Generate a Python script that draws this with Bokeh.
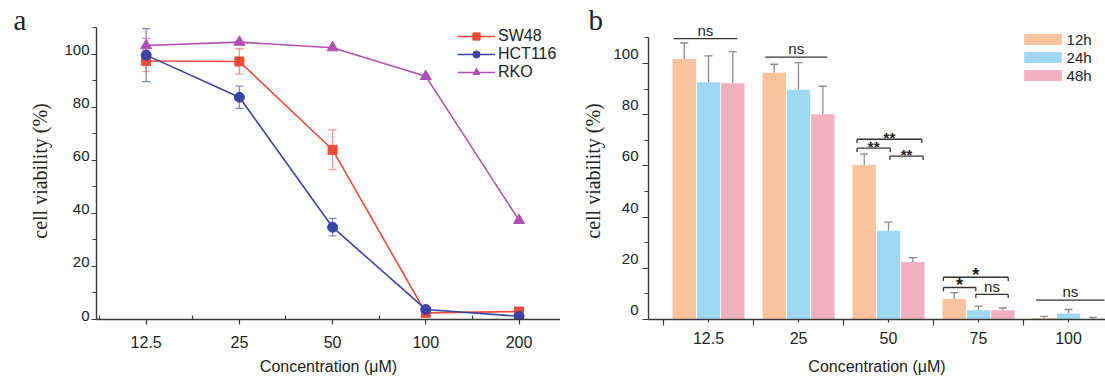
import numpy as np
from bokeh.plotting import figure
from bokeh.models import (FixedTicker, Label, Legend, LegendItem, Whisker, TeeHead,
                          ColumnDataSource, Range1d, CustomJSTickFormatter, LinearAxis)
from bokeh.layouts import row
from bokeh.embed import file_html
from bokeh.resources import INLINE
from bokeh.core.properties import value

# ---------------- data: panel a ----------------
conc_a = ["12.5", "25", "50", "100", "200"]
sw48 = [97.5, 97.3, 64.0, 2.5, 3.0]
sw48_err = [4.0, 4.8, 7.5, 0.0, 0.0]
hct116 = [99.7, 83.8, 34.8, 3.8, 1.2]
hct116_err = [10.0, 4.2, 3.3, 0.0, 0.0]
rko = [103.3, 104.6, 102.5, 91.7, 37.4]
rko_err = [2.7, 0.0, 0.0, 0.0, 0.0]

# ---------------- data: panel b ----------------
conc_b = ["12.5", "25", "50", "75", "100"]
times = ["12h", "24h", "48h"]
v12 = [101.7, 96.4, 60.3, 8.0, 0.6]
e12 = [6.3, 3.3, 4.3, 2.5, 0.6]
v24 = [92.7, 89.7, 34.7, 3.6, 2.3]
e24 = [10.3, 10.6, 3.3, 1.6, 1.6]
v48 = [92.3, 80.2, 22.5, 3.6, 0.3]
e48 = [12.3, 10.9, 1.7, 0.9, 0.5]

# significance annotations: group, x0 offset, x1 offset, level, label, bracket ends
sig_group = [0, 1, 2, 2, 2, 3, 3, 3, 4]
sig_x0 = [-0.39, -0.37, -0.35, -0.35, 0.015, -0.39, -0.39, -0.03, -0.36]
sig_x1 = [0.32, 0.32, 0.37, 0.02, 0.385, 0.33, -0.03, 0.33, 0.40]
sig_y = [109.7, 102.5, 70.4, 66.9, 63.8, 16.5, 12.5, 9.85, 7.6]
sig_label = ["ns", "ns", "**", "**", "**", "*", "*", "ns", "ns"]
sig_bracket = [False, False, True, True, True, True, True, True, False]

y_major = [0, 20, 40, 60, 80, 100]
y_minor = [10, 30, 50, 70, 90, 110]

SANS = "Liberation Sans"
SERIF = "Liberation Serif"
AX = "#3a3a3a"
TXT = "#222222"

c_sw, c_hct, c_rko = "#EE4B3A", "#3B45A8", "#B24FB5"
ce_sw, ce_hct, ce_rko = "#F59A8E", "#8287C9", "#CC92CF"
c_bars = ["#F9C3A0", "#9ED8F2", "#F2B1BF"]


def style_axes(p, ytick_out, yminor_out):
    p.outline_line_color = None
    p.grid.visible = False
    for ax in (p.xaxis[0], p.yaxis[0]):
        ax.axis_line_color = AX
        ax.axis_line_width = 1.4
        ax.major_tick_line_color = AX
        ax.minor_tick_line_color = AX
        ax.major_tick_line_width = 1.2
        ax.minor_tick_line_width = 1.2
        ax.major_label_text_font = SANS
        ax.major_label_text_color = TXT
    ya = p.yaxis[0]
    ya.ticker = FixedTicker(ticks=y_major, minor_ticks=y_minor)
    ya.bounds = (0, 110)
    ya.major_tick_in = 0
    ya.major_tick_out = ytick_out
    ya.minor_tick_in = 0
    ya.minor_tick_out = yminor_out
    ya.formatter = CustomJSTickFormatter(code="return ''")
    ya.major_label_standoff = 0


def label_axis(p, y0, y1, shift, standoff, title_standoff):
    # tick labels drawn slightly above their ticks, as in the reference
    p.extra_y_ranges = {"lab": Range1d(y0 - shift, y1 - shift)}
    ax = LinearAxis(y_range_name="lab", ticker=FixedTicker(ticks=y_major, minor_ticks=[]),
                    axis_line_color=None, major_tick_line_color=None, minor_tick_line_color=None,
                    major_tick_in=0, major_tick_out=0, minor_tick_in=0, minor_tick_out=0,
                    major_label_standoff=standoff, major_label_text_font=SANS,
                    major_label_text_font_size="15px", major_label_text_color=TXT,
                    axis_label="cell viability (%)", axis_label_text_font=SERIF,
                    axis_label_text_font_size="20px", axis_label_text_font_style="normal",
                    axis_label_text_color=TXT, axis_label_standoff=title_standoff)
    p.add_layout(ax, "left")


def x_axis(p, labels, tick_out, minor_in, minor_out, standoff, title_standoff):
    xa = p.xaxis[0]
    n = len(labels)
    xa.ticker = FixedTicker(ticks=list(range(n)), minor_ticks=[i - 0.5 for i in range(n + 1)])
    xa.major_label_overrides = {i: c for i, c in enumerate(labels)}
    xa.major_label_text_font_size = "16px"
    xa.major_tick_in = 0
    xa.major_tick_out = tick_out
    xa.minor_tick_in = minor_in
    xa.minor_tick_out = minor_out
    xa.major_label_standoff = standoff
    xa.axis_label = "Concentration (\u03bcM)"
    xa.axis_label_text_font = SANS
    xa.axis_label_text_font_size = "16px"
    xa.axis_label_text_font_style = "normal"
    xa.axis_label_text_color = TXT
    xa.axis_label_standoff = title_standoff


def panel_letter(p, letter, x, y):
    p.add_layout(Label(x=x, y=y, x_units="canvas", y_units="canvas", text=letter,
                       text_align="left", text_baseline="alphabetic",
                       text_font=SERIF, text_font_size="29px", text_color=TXT), "left")


# ======================= panel a =======================
ia = list(range(len(conc_a)))
xa0, xa1 = -0.533, 4.445
pa = figure(width=560, height=377, x_range=Range1d(xa0, xa1), y_range=Range1d(0, 112),
            output_backend="svg", toolbar_location=None, title=None,
            min_border_left=96, min_border_right=0, min_border_top=22, min_border_bottom=52)
style_axes(pa, 5, 4)
x_axis(pa, conc_a, 5, 4, 0, 11, 7)

leg_items = []
for name, vals, errs, col, ecol, mk, sz in [
        ("SW48", sw48, sw48_err, c_sw, ce_sw, "square", 9),
        ("HCT116", hct116, hct116_err, c_hct, ce_hct, "circle", 10),
        ("RKO", rko, rko_err, c_rko, ce_rko, "triangle", 11)]:
    sel = [i for i in ia if errs[i] > 0]
    src = ColumnDataSource(dict(base=[ia[i] for i in sel],
                                lower=[vals[i] - errs[i] for i in sel],
                                upper=[vals[i] + errs[i] for i in sel]))
    w = Whisker(base="base", lower="lower", upper="upper", source=src,
                line_color=ecol, line_width=1.3,
                upper_head=TeeHead(size=8, line_color=ecol, line_width=1.3),
                lower_head=TeeHead(size=8, line_color=ecol, line_width=1.3))
    pa.add_layout(w)
    lr = pa.line(ia, vals, line_color=col, line_width=1.6)
    sr = pa.scatter(ia, vals, marker=mk, size=sz, fill_color=col, line_color=col)
    leg_items.append(LegendItem(label=name, renderers=[lr, sr]))

leg_a = Legend(items=leg_items, location=(361, 238), orientation="vertical",
               glyph_width=38, glyph_height=18, label_height=18, label_standoff=3,
               spacing=0, padding=0, margin=0,
               label_text_font=SANS, label_text_font_size="16px", label_text_color=TXT,
               border_line_alpha=0, background_fill_alpha=0)
pa.add_layout(leg_a)
label_axis(pa, 0, 112, 1.5, 2, 10)
panel_letter(pa, "a", 13, 19)

# ======================= panel b =======================
ib = list(range(len(conc_b)))
xb0, xb1 = -0.667, 4.411
pb = figure(width=545, height=377, x_range=Range1d(xb0, xb1), y_range=Range1d(0, 116),
            output_backend="svg", toolbar_location=None, title=None,
            min_border_left=88, min_border_right=0, min_border_top=10, min_border_bottom=53)
style_axes(pb, 6, 4)
x_axis(pb, conc_b, 3, 0, 6, 6, 11)

offsets = [-0.27, 0.0, 0.27]
bar_items = []
for k, (vals, errs) in enumerate([(v12, e12), (v24, e24), (v48, e48)]):
    xs = [i + offsets[k] for i in ib]
    r = pb.vbar(x=xs, top=vals, width=0.26, fill_color=c_bars[k], line_color=None)
    bar_items.append(LegendItem(label=times[k], renderers=[r]))
    src = ColumnDataSource(dict(base=xs, lower=vals, upper=[v + e for v, e in zip(vals, errs)]))
    pb.add_layout(Whisker(base="base", lower="lower", upper="upper", source=src,
                          line_color="#8a8a8a", line_width=1.3, lower_head=None,
                          upper_head=TeeHead(size=8, line_color="#8a8a8a", line_width=1.3)))

# significance lines / brackets
drop = 1.5
hx0 = [g + a for g, a in zip(sig_group, sig_x0)]
hx1 = [g + b for g, b in zip(sig_group, sig_x1)]
pb.segment(x0=hx0, y0=sig_y, x1=hx1, y1=sig_y, line_color="#333333", line_width=1.3)
bx, by0, by1 = [], [], []
for a, b, y, br in zip(hx0, hx1, sig_y, sig_bracket):
    if br:
        bx += [a, b]
        by0 += [y, y]
        by1 += [y - drop, y - drop]
pb.segment(x0=bx, y0=by0, x1=bx, y1=by1, line_color="#333333", line_width=1.3)

ns_x, ns_y, st_x, st_y, s1_x, s1_y = [], [], [], [], [], []
for a, b, y, lab in zip(hx0, hx1, sig_y, sig_label):
    cx = (a + b) / 2
    if lab == "ns":
        ns_x.append(cx); ns_y.append(y + 3.2)
    elif lab == "**":
        st_x.append(cx); st_y.append(y + 0.6)
    else:
        s1_x.append(cx); s1_y.append(y + 0.9)
pb.text(x=ns_x, y=ns_y, text=["ns"] * len(ns_x), text_font=value(SANS), text_font_size="15px",
        text_align="center", text_baseline="middle", text_color=TXT)
pb.text(x=st_x, y=st_y, text=["**"] * len(st_x), text_font=value(SANS), text_font_size="15px",
        text_font_style="bold", text_align="center", text_baseline="middle", text_color=TXT)
pb.text(x=s1_x, y=s1_y, text=["*"] * len(s1_x), text_font=value(SANS), text_font_size="18px",
        text_font_style="bold", text_align="center", text_baseline="middle", text_color=TXT)

leg_b = Legend(items=bar_items, location=(370.6, 235), orientation="vertical",
               glyph_width=47, glyph_height=14, label_height=18, label_standoff=1,
               spacing=0, padding=0, margin=0,
               label_text_font=SANS, label_text_font_size="15px", label_text_color=TXT,
               border_line_alpha=0, background_fill_alpha=0)
pb.add_layout(leg_b)
label_axis(pb, 0, 116, 3.7, 4, 6)
panel_letter(pb, "b", 28, 19)

layout = row(pa, pb)
open("out.html", "w").write(file_html(layout, INLINE))
